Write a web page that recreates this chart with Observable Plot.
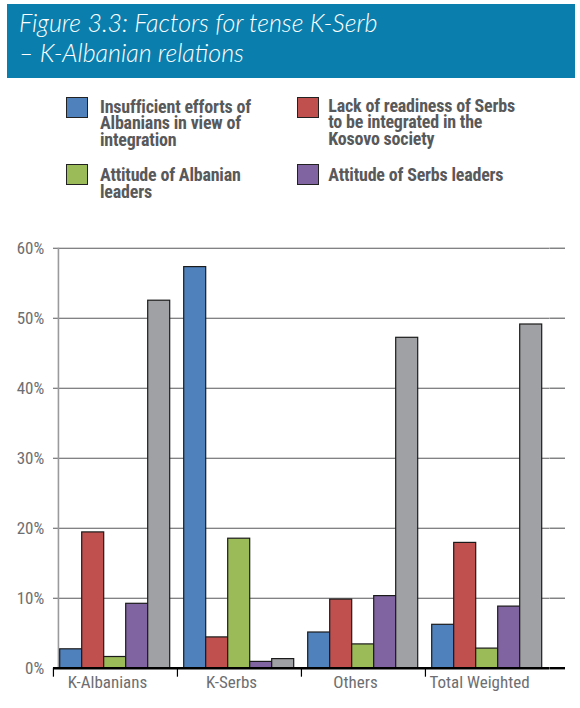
<!DOCTYPE html>
<html>
<head>
<meta charset="utf-8">
<script src="https://cdn.jsdelivr.net/npm/d3@7"></script>
<script src="https://cdn.jsdelivr.net/npm/@observablehq/plot@0.6"></script>
<style>
  html, body { margin: 0; padding: 0; background: #fff; }
  #page { position: relative; width: 580px; height: 708px; overflow: hidden; background: #fff; }
  #title { position: absolute; left: 7px; top: 4px; width: 568px; height: 74px; background: #0A7FAE; }
  #title div { position: absolute; left: 12px; top: 3px; color: #fff; font-family: Lato, "Open Sans", sans-serif;
    font-style: italic; font-weight: 300; font-size: 25px; line-height: 30px; white-space: nowrap; }
  .sw { position: absolute; width: 20px; height: 19px; border: 1px solid #222; }
  .lt { position: absolute; font-family: "Liberation Sans Narrow", "Roboto Condensed", Roboto, sans-serif;
    font-weight: bold; font-size: 18px; line-height: 16.7px; color: #58595B; white-space: nowrap; letter-spacing: -0.2px; }
  .lt div { height: 16.7px; }
  #chart { position: absolute; left: 0; top: 230px; }
</style>
</head>
<body>
<div id="page">
  <div id="title"><div>Figure 3.3: Factors for tense K-Serb<br>– K-Albanian relations</div></div>
  <div id="legend"></div>
  <div id="chart"></div>
</div>
<script>
// ---- data ----
const categories = ["K-Albanians", "K-Serbs", "Others", "Total Weighted"];
const seriesNames = [
  "Insufficient efforts of Albanians in view of integration",
  "Lack of readiness of Serbs to be integrated in the Kosovo society",
  "Attitude of Albanian leaders",
  "Attitude of Serbs leaders",
  "Other (not in legend)"
];
const legendLines = [
  ["Insufficient efforts of", "Albanians in view of", "integration"],
  ["Lack of readiness of Serbs", "to be integrated in the", "Kosovo society"],
  ["Attitude of Albanian", "leaders"],
  ["Attitude of Serbs leaders"]
];
const insufficientEfforts = [2.7, 57.3, 5.1, 6.2];
const lackOfReadiness = [19.4, 4.4, 9.8, 17.9];
const attitudeAlbanianLeaders = [1.6, 18.5, 3.4, 2.8];
const attitudeSerbsLeaders = [9.2, 0.9, 10.3, 8.8];
const otherSeries = [52.5, 1.3, 47.2, 49.1];
const seriesColors = ["#4F81BD", "#C0504D", "#9BBB59", "#8064A2", "#A0A1A4"];
const yTicks = [0, 10, 20, 30, 40, 50, 60];

const seriesValues = [insufficientEfforts, lackOfReadiness, attitudeAlbanianLeaders, attitudeSerbsLeaders, otherSeries];
const rows = [];
seriesValues.forEach((vals, s) => vals.forEach((v, c) => rows.push({category: categories[c], series: seriesNames[s], value: v})));

// ---- legend (HTML) ----
const legendPos = [
  {sx: 65.7, sy: 97.3, tx: 100, ty: 98.6},
  {sx: 296.7, sy: 96.7, tx: 328.3, ty: 97.6},
  {sx: 65.7, sy: 164, tx: 100, ty: 167},
  {sx: 296.7, sy: 164.3, tx: 328.3, ty: 167}
];
const legend = document.getElementById("legend");
legendLines.forEach((lines, i) => {
  const p = legendPos[i];
  const sw = document.createElement("div");
  sw.className = "sw";
  sw.style.left = p.sx + "px"; sw.style.top = p.sy + "px";
  sw.style.background = seriesColors[i];
  legend.appendChild(sw);
  const t = document.createElement("div");
  t.className = "lt";
  t.style.left = p.tx + "px"; t.style.top = p.ty + "px";
  lines.forEach(l => { const d = document.createElement("div"); d.textContent = l; t.appendChild(d); });
  legend.appendChild(t);
});

// ---- chart ----
const W = 580, H = 478;
const mL = 52.3, mR = 14.3, mT = 17.7, mB = 40.3;
const fxRange = [52.3, 549.7];
const xPadOuter = 0.3;
const facetW = (fxRange[1] - fxRange[0]) / categories.length;
const step = facetW / (seriesNames.length + 2 * xPadOuter);
const edgeDx = -(xPadOuter + 0.5) * step;        // first bar centre -> facet left edge
const rightExtra = (W - mR) - fxRange[1];          // frame extends past last facet
const lastCat = categories[categories.length - 1];
const fontStack = '"Liberation Sans Narrow", "Roboto Condensed", Roboto, sans-serif';

const chart = Plot.plot({
  width: W, height: H,
  marginLeft: mL, marginRight: mR, marginTop: mT, marginBottom: mB,
  style: {fontFamily: fontStack, fontSize: "17px", color: "#6D6E71", background: "transparent"},
  fx: {domain: categories, range: fxRange, padding: 0},
  x: {domain: seriesNames, paddingInner: 0, paddingOuter: xPadOuter, align: 0.5},
  y: {domain: [0, 60]},
  color: {domain: seriesNames, range: seriesColors},
  marks: [
    // gridlines (repeated per facet) and their extension past the last facet
    Plot.ruleY(yTicks.slice(1), {stroke: "#58595B", strokeWidth: 1.1}),
    Plot.ruleY(yTicks.slice(1).map(t => ({t, cat: lastCat})), {fx: "cat", y: "t", insetLeft: facetW, insetRight: -rightExtra, stroke: "#58595B", strokeWidth: 1.1}),
    // left vertical axis line
    Plot.ruleX(categories.slice(0, 1), {fx: d => d, x: () => seriesNames[0], y1: () => 0, y2: () => 60, dx: edgeDx + 5, stroke: "#9A9A9C", strokeWidth: 1.6}),
    Plot.barY(rows, {fx: "category", x: "series", y: "value", fill: "series", stroke: "#1b1b1b", strokeWidth: 1.2}),
    // category boundary ticks
    Plot.ruleX(categories, {fx: d => d, x: () => seriesNames[0], y1: () => 0, y2: () => 0, insetBottom: -9, dx: edgeDx, stroke: "#000", strokeWidth: 1.2}),
    // baseline
    Plot.ruleY([0], {stroke: "#000", strokeWidth: 2.4}),
    Plot.ruleY([{t: 0, cat: lastCat}], {fx: "cat", y: "t", insetLeft: facetW, insetRight: -rightExtra, stroke: "#000", strokeWidth: 2.4}),
    Plot.axisY({ticks: yTicks, tickFormat: d => d + "%", tickSize: 0, tickPadding: 9.3, label: null}),
    Plot.axisFx({anchor: "bottom", tickSize: 0, tickPadding: 7.9, dx: -8, label: null}),
    Plot.axisX({ticks: [], label: null})
  ]
});
document.getElementById("chart").appendChild(chart);
</script>
</body>
</html>
